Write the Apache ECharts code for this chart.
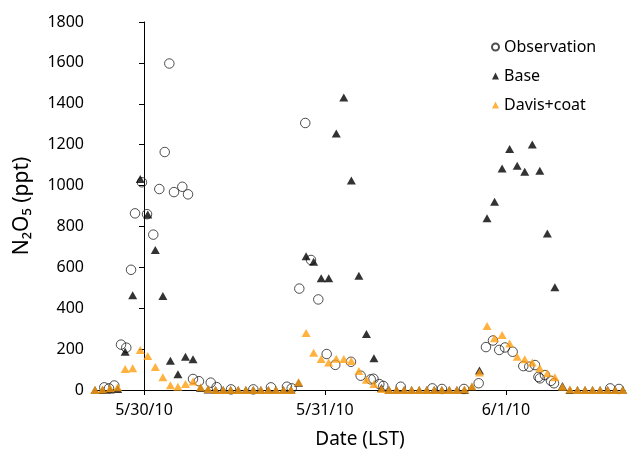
<!DOCTYPE html>
<html>
<head>
<meta charset="utf-8">
<script src="https://cdn.jsdelivr.net/npm/echarts@6/dist/echarts.min.js"></script>
<style>
  html, body { margin: 0; padding: 0; background: #fff; }
  #chart { width: 628px; height: 449px; }
</style>
</head>
<body>
<div id="chart"></div>
<script>
// hours since 5/30/10 00:00 LST
var dayTicks = [0, 24, 48];
var dayLabels = ['5/30/10', '5/31/10', '6/1/10'];

// model output times (hourly)
var modelHours = [-6.5, -5.5, -4.5, -3.5, -2.5, -1.5, -0.5, 0.5, 1.5, 2.5, 3.5, 4.5, 5.5, 6.5, 7.5,
    8.5, 9.5, 10.5, 11.5, 12.5, 13.5, 14.5, 15.5, 16.5, 17.5, 18.5, 19.5, 20.5, 21.5, 22.5, 23.5,
    24.5, 25.5, 26.5, 27.5, 28.5, 29.5, 30.5, 31.5, 32.5, 33.5, 34.5, 35.5, 36.5, 37.5, 38.5, 39.5,
    40.5, 41.5, 42.5, 43.5, 44.5, 45.5, 46.5, 47.5, 48.5, 49.5, 50.5, 51.5, 52.5, 53.5, 54.5, 55.5,
    56.5, 57.5, 58.5, 59.5, 60.5, 61.5, 62.5, 63.5];

var baseValues = [0, 0, 2, 5, 187, 464, 1032, 859, 685, 460, 143, 77, 163, 150, 10,
    2, 0, 0, 0, 0, 0, 0, 0, 0, 0, 0, 0, 35, 654, 627, 546,
    546, 1255, 1431, 1025, 559, 274, 155, 10, 0, 0, 0, 0, 0, 0, 0, 0,
    0, 0, 0, 15, 95, 840, 921, 1084, 1179, 1097, 1068, 1201, 1072, 766, 502, 20,
    0, 0, 0, 0, 0, 0, 0, 0];

var davisValues = [0, 3, 8, 13, 103, 106, 196, 166, 112, 62, 23, 16, 29, 41, 13,
    5, 0, 0, 0, 0, 0, 0, 0, 0, 0, 0, 0, 38, 279, 182, 152,
    134, 153, 152, 142, 93, 50, 29, 5, 0, 0, 0, 0, 0, 0, 0, 0,
    0, 0, 3, 18, 85, 313, 253, 269, 228, 163, 150, 134, 106, 82, 62, 16,
    3, 0, 0, 0, 0, 0, 0, 0];

// observations (irregular times)
var obsHours = [-5.27, -4.64, -3.94, -3.05, -2.35, -1.72, -1.19, -0.27, 0.40, 1.23, 2.03, 2.75,
    3.36, 3.98, 5.08, 5.84, 6.50, 7.29, 8.85, 9.64, 11.54, 14.50, 16.84, 18.96, 19.59,
    20.60, 21.39, 22.15, 23.12, 24.23, 25.37, 27.45, 28.74, 30.07, 30.44, 31.21, 31.74,
    34.05, 38.24, 39.52, 42.44, 44.39,
    45.36, 46.29, 47.12, 47.88, 48.90, 50.31, 51.10, 51.86, 52.32, 52.52, 53.18, 53.98,
    54.38, 61.84, 63.0];
var obsValues = [13, 8, 22, 222, 207, 588, 864, 1016, 860, 760, 983, 1164,
    1597, 968, 994, 957, 54, 43, 36, 14, 3, 3, 13, 16, 8,
    496, 1306, 636, 443, 176, 123, 138, 70, 52, 55, 29, 20,
    16, 8, 5, 5, 33,
    210, 242, 196, 208, 187, 117, 114, 122, 64, 57, 73, 45,
    33, 8, 5];

function pairs(xs, ys) {
    var out = [];
    for (var i = 0; i < xs.length; i++) {
        out.push([xs[i], ys[i]]);
    }
    return out;
}

var font = 'Noto Sans';
var chart = echarts.init(document.getElementById('chart'));
chart.setOption({
    animation: false,
    textStyle: { fontFamily: font, color: '#000' },
    grid: { left: 95, right: 3, top: 22, bottom: 59, containLabel: false, outerBoundsMode: 'none' },
    legend: {
        orient: 'vertical',
        left: 486,
        top: 34,
        itemWidth: 7,
        itemHeight: 7,
        itemGap: 13,
        textStyle: { fontFamily: font, fontSize: 16, color: '#000' },
        data: ['Observation', 'Base', 'Davis+coat']
    },
    xAxis: {
        type: 'value',
        min: -6.5,
        max: 63.8,
        name: 'Date (LST)',
        nameLocation: 'middle',
        nameGap: 40,
        nameTextStyle: { fontFamily: font, fontSize: 19, color: '#000' },
        axisLine: { lineStyle: { color: '#000', width: 1 } },
        axisTick: { customValues: dayTicks, length: 5, lineStyle: { color: '#000' } },
        axisLabel: {
            customValues: dayTicks,
            margin: 12,
            fontSize: 16,
            color: '#000',
            formatter: function (v) {
                return dayLabels[dayTicks.indexOf(v)];
            }
        },
        splitLine: { show: false }
    },
    yAxis: {
        type: 'value',
        min: 0,
        max: 1800,
        interval: 200,
        name: 'N\u2082O\u2085 (ppt)',
        nameLocation: 'middle',
        nameGap: 62,
        nameTextStyle: { fontFamily: font, fontSize: 21, color: '#000' },
        axisLine: { show: true, lineStyle: { color: '#000', width: 1 } },
        axisTick: { show: true, length: 5, lineStyle: { color: '#000' } },
        axisLabel: {
            margin: 11,
            fontSize: 16,
            color: '#000',
            formatter: function (v) { return String(v); }
        },
        splitLine: { show: false }
    },
    series: [
        {
            name: 'Observation',
            type: 'scatter',
            symbol: 'circle',
            symbolSize: 9.5,
            itemStyle: { color: 'rgba(255,255,255,0)', borderColor: '#222', borderWidth: 1 },
            data: pairs(obsHours, obsValues)
        },
        {
            name: 'Base',
            type: 'scatter',
            symbol: 'triangle',
            symbolSize: [9, 8],
            itemStyle: { color: '#000' },
            data: pairs(modelHours, baseValues)
        },
        {
            name: 'Davis+coat',
            type: 'scatter',
            symbol: 'triangle',
            symbolSize: [9, 8],
            itemStyle: { color: '#FF9F10' },
            data: pairs(modelHours, davisValues)
        }
    ]
});
</script>
</body>
</html>
